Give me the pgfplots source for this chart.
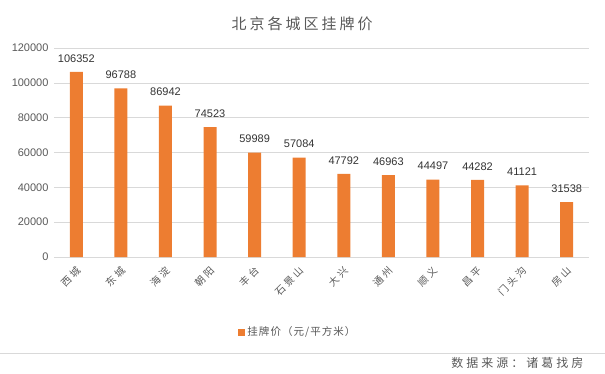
\documentclass[border=0pt]{standalone}
\usepackage{pgfplots}
\pgfplotsset{compat=1.18}
\usepackage{fontspec}
\setmainfont{Liberation Sans}
\newfontfamily\cjk{Noto Sans CJK SC}
\definecolor{barorange}{HTML}{ED7D31}
\definecolor{ticktext}{HTML}{595959}
\definecolor{gridgray}{HTML}{D9D9D9}
\begin{document}
\begin{tikzpicture}
\useasboundingbox (0pt,0pt) rectangle (605pt,373pt);
\begin{axis}[
  at={(54pt,116pt)}, anchor=south west,
  scale only axis, width=535pt, height=209pt,
  xmin=-0.5, xmax=11.5, ymin=0, ymax=120000,
  ytick={0,20000,40000,60000,80000,100000,120000},
  yticklabels={0,20000,40000,60000,80000,100000,120000},
  xtick={0,...,11},
  xticklabels={西城,东城,海淀,朝阳,丰台,石景山,大兴,通州,顺义,昌平,门头沟,房山},
  xticklabel style={font=\cjk\fontsize{10}{10}\selectfont\addfontfeatures{LetterSpace=25}, xshift=-1pt, yshift=-7pt, rotate=45, anchor=north east, text=ticktext, inner sep=1pt},
  yticklabel style={font=\fontsize{11}{11}\selectfont, text=ticktext, xshift=-2pt},
  scaled y ticks=false,
  axis line style={draw=none},
  axis x line*=bottom,
  x axis line style={draw=gridgray},
  major tick length=0pt,
  ymajorgrids, grid style={gridgray, line width=0.6pt},
  ybar, bar width=13pt,
  point meta=explicit symbolic,
  nodes near coords,
  every node near coord/.append style={font=\fontsize{11}{11}\selectfont, text=black!80, yshift=6pt},
  legend style={at={(0.456,-0.36)}, anchor=center, draw=none, font=\cjk\fontsize{10.5}{10.5}\selectfont\addfontfeatures{LetterSpace=10}, text=ticktext},
  legend image code/.code={\fill[barorange] (0,-3.5pt) rectangle (7pt,3.5pt);},
  clip=false,
]
\addplot[fill=barorange, draw=none] coordinates {
 (0,106352) [106352] (1,96788) [96788] (2,86942) [86942] (3,74523) [74523]
 (4,59989) [59989] (5,57084) [57084] (6,47792) [47792] (7,46963) [46963]
 (8,44497) [44497] (9,44282) [44282] (10,41121) [41121] (11,31538) [31538]
};
\addlegendentry{挂牌价（元/平方米）}
\end{axis}
\node[font=\cjk\fontsize{15}{15}\selectfont\addfontfeatures{LetterSpace=20}, text=ticktext] at (302pt,349pt) {北京各城区挂牌价};
\draw[gridgray, line width=0.6pt] (0pt,20pt) -- (605pt,20pt);
\node[font=\cjk\fontsize{12}{12}\selectfont\addfontfeatures{LetterSpace=25}, text=ticktext, anchor=east] at (587pt,10pt) {数据来源：诸葛找房};
\end{tikzpicture}
\end{document}
